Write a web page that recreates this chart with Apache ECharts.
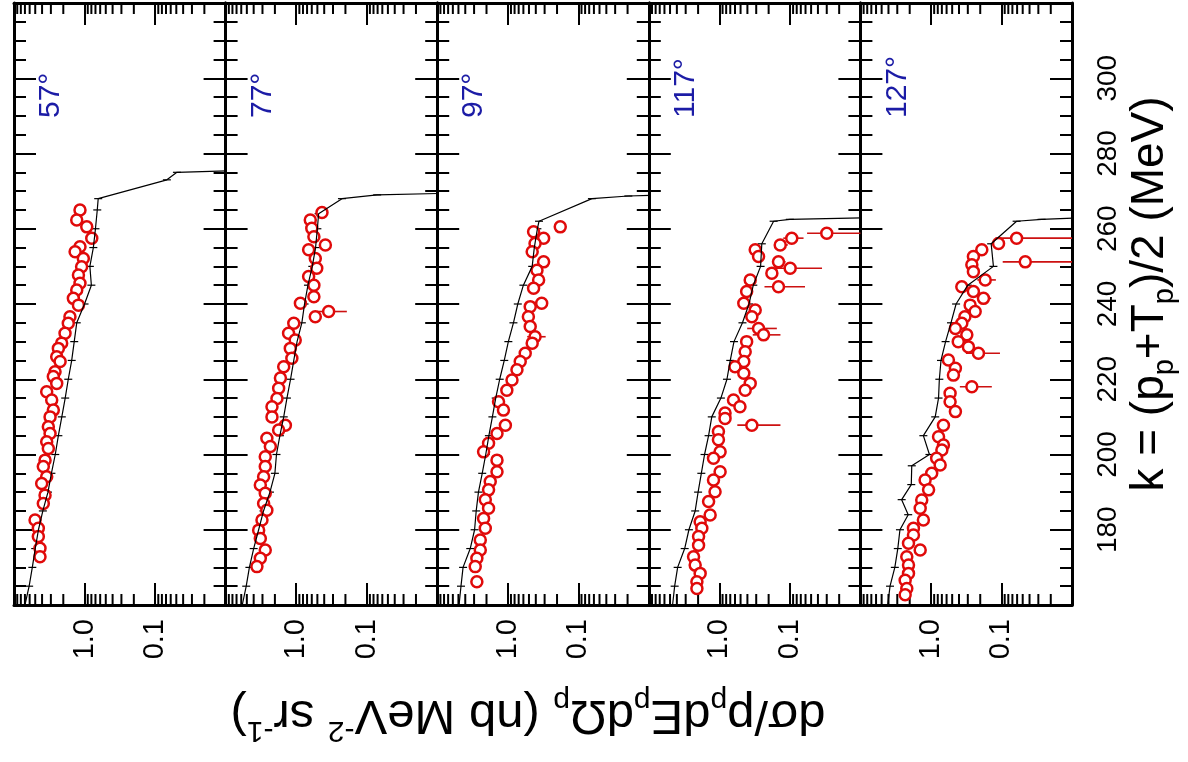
<!DOCTYPE html>
<html>
<head>
<meta charset="utf-8">
<script src="https://cdn.jsdelivr.net/npm/echarts@6/dist/echarts.min.js"></script>
<style>
html, body { margin: 0; padding: 0; background: #fff; }
#chart { width: 1188px; height: 762px; }
</style>
</head>
<body>
<div id="chart"></div>
<script>
// panel titles (proton angle)
const angles = ['57°', '77°', '97°', '117°', '127°'];
const kTickLabels = [180, 200, 220, 240, 260, 280, 300];
const sigmaTickLabels = [[1, '1.0'], [0.1, '0.1']];
// log minor ticks of the cross-section axis
const sigmaMinor = [0.02, 0.03, 0.04, 0.05, 0.06, 0.07, 0.08, 0.09,
  0.2, 0.3, 0.4, 0.5, 0.6, 0.7, 0.8, 0.9, 2, 3, 4, 5, 6, 7, 8, 9];

// measured points: [k (MeV), dsigma, error]
const data57 = [[265.0, 1.16, 0], [262.3, 1.29, 0], [260.5, 0.93, 0], [257.5, 0.79, 0], [255.2, 1.16, 0],
  [253.9, 1.36, 0], [252.1, 1.04, 0], [249.9, 1.10, 0], [247.7, 1.22, 0], [245.5, 1.16, 0],
  [243.7, 1.29, 0], [241.5, 1.44, 0], [239.7, 1.22, 0], [236.6, 1.61, 0], [234.9, 1.70, 0],
  [232.2, 1.89, 0], [229.6, 2.11, 0], [228.2, 2.35, 0], [226.0, 2.48, 0], [224.7, 2.22, 0],
  [222.0, 2.62, 0], [220.7, 2.77, 0], [218.9, 2.48, 0], [216.7, 3.44, 0], [214.5, 2.92, 0],
  [211.8, 2.77, 0], [210.0, 3.08, 0], [207.4, 3.26, 0], [205.6, 3.08, 0], [203.4, 3.44, 0],
  [201.6, 3.26, 0], [198.5, 3.63, 0], [196.8, 3.84, 0], [194.1, 3.44, 0], [192.3, 4.05, 0],
  [189.2, 3.63, 0], [187.0, 3.84, 0], [182.6, 5.03, 0], [180.4, 4.52, 0], [178.2, 4.52, 0],
  [175.1, 4.28, 0], [172.8, 4.28, 0]];
const data77 = [[264.3, 0.43, 0.05], [262.3, 0.63, 0], [260.1, 0.60, 0], [257.9, 0.56, 0.05], [255.7, 0.385, 0.06],
  [254.4, 0.665, 0], [252.1, 0.535, 0], [249.5, 0.51, 0.05], [247.3, 0.665, 0], [245.0, 0.56, 0],
  [241.9, 0.56, 0], [240.2, 0.87, 0], [236.6, 0.535, 0], [238.0, 0.346, 0.155], [234.9, 1.08, 0],
  [232.2, 1.28, 0], [230.4, 1.03, 0], [228.2, 1.21, 0], [225.6, 1.15, 0], [223.3, 1.50, 0],
  [220.3, 1.67, 0], [217.6, 1.77, 0], [214.9, 1.87, 0], [212.7, 2.20, 0], [210.0, 2.20, 0],
  [207.8, 1.42, 0], [206.5, 1.77, 0], [204.3, 2.60, 0], [202.1, 2.32, 0], [199.4, 2.74, 0],
  [196.8, 2.74, 0], [194.1, 2.89, 0], [191.9, 3.22, 0], [189.7, 2.74, 0], [187.0, 2.89, 0],
  [185.2, 2.60, 0], [182.6, 3.05, 0], [179.9, 3.40, 0], [177.7, 3.22, 0], [174.6, 2.74, 0],
  [172.4, 3.22, 0], [170.2, 3.60, 0]];
const data97 = [[260.5, 0.18, 0.03], [259.2, 0.43, 0], [257.5, 0.31, 0.04], [256.1, 0.41, 0], [253.9, 0.45, 0],
  [251.2, 0.31, 0.04], [249.0, 0.385, 0], [246.4, 0.365, 0], [244.2, 0.43, 0], [240.2, 0.33, 0.06],
  [239.3, 0.48, 0], [236.6, 0.51, 0], [234.0, 0.48, 0], [231.3, 0.41, 0.12], [229.6, 0.45, 0],
  [226.9, 0.565, 0.06], [224.7, 0.665, 0], [222.5, 0.74, 0], [219.8, 0.87, 0], [217.1, 1.03, 0],
  [214.0, 1.35, 0], [211.8, 1.15, 0], [207.8, 1.08, 0], [205.6, 1.42, 0], [203.0, 1.87, 0],
  [200.7, 2.20, 0], [198.5, 1.42, 0], [195.4, 1.42, 0], [192.8, 1.77, 0], [190.6, 1.87, 0],
  [188.0, 2.08, 0], [185.7, 1.87, 0], [183.0, 2.20, 0], [180.4, 2.08, 0], [177.3, 2.45, 0],
  [174.6, 2.45, 0], [172.4, 2.74, 0], [170.2, 2.89, 0], [166.2, 2.74, 0]];
const data117 = [[258.8, 0.030, 0.027], [257.5, 0.094, 0.03], [255.7, 0.137, 0.03], [254.4, 0.31, 0], [252.6, 0.278, 0],
  [251.2, 0.145, 0.03], [249.5, 0.099, 0.064], [248.2, 0.18, 0.03], [246.4, 0.365, 0], [244.6, 0.145, 0.084],
  [243.3, 0.41, 0], [240.2, 0.45, 0], [238.4, 0.31, 0.05], [236.6, 0.346, 0.04], [233.5, 0.278, 0.125],
  [231.8, 0.236, 0.1], [230.0, 0.41, 0.05], [227.3, 0.43, 0], [224.7, 0.45, 0.05], [223.3, 0.60, 0],
  [221.6, 0.45, 0], [218.9, 0.365, 0.06], [217.1, 0.43, 0], [214.5, 0.63, 0], [212.7, 0.51, 0.05],
  [211.0, 0.83, 0], [209.6, 0.83, 0], [207.8, 0.346, 0.21], [206.1, 1.03, 0], [203.9, 1.03, 0],
  [200.7, 0.975, 0], [199.0, 1.21, 0], [195.4, 0.975, 0], [193.2, 1.21, 0], [190.1, 1.15, 0],
  [187.5, 1.42, 0], [183.9, 1.35, 0], [182.1, 1.87, 0], [180.4, 1.77, 0], [178.2, 1.97, 0],
  [175.9, 1.97, 0], [172.8, 2.32, 0], [170.6, 2.20, 0], [168.4, 1.87, 0], [166.2, 2.08, 0],
  [164.4, 2.08, 0]];
const data127 = [[257.5, 0.061, 0.06], [251.2, 0.046, 0.05], [256.1, 0.11, 0.02], [254.4, 0.19, 0.03], [252.6, 0.25, 0],
  [250.4, 0.263, 0], [248.6, 0.25, 0.04], [246.4, 0.17, 0.05], [244.6, 0.365, 0], [243.3, 0.25, 0],
  [241.5, 0.18, 0.04], [239.7, 0.278, 0], [238.0, 0.236, 0.04], [236.6, 0.33, 0], [234.9, 0.365, 0],
  [233.5, 0.45, 0], [231.8, 0.31, 0.04], [230.0, 0.41, 0], [228.6, 0.294, 0.04], [226.9, 0.212, 0.107],
  [225.1, 0.565, 0], [222.9, 0.45, 0], [221.1, 0.48, 0], [218.0, 0.263, 0.126], [216.3, 0.535, 0],
  [214.0, 0.535, 0], [211.4, 0.45, 0], [207.8, 0.665, 0], [204.7, 0.78, 0], [202.5, 0.665, 0.05],
  [201.2, 0.70, 0], [199.0, 0.83, 0], [197.2, 0.74, 0], [195.0, 0.975, 0], [193.2, 1.21, 0],
  [190.6, 1.08, 0], [187.9, 1.35, 0], [185.7, 1.42, 0], [182.6, 1.28, 0], [180.4, 1.77, 0],
  [178.6, 1.77, 0], [176.4, 2.08, 0], [174.6, 1.42, 0], [172.8, 2.20, 0], [170.6, 2.08, 0],
  [168.4, 2.08, 0], [166.6, 2.32, 0], [164.4, 2.20, 0], [162.7, 2.32, 0]];

// calculation (black line): [k (MeV), dsigma]
const theory57 = [[160, 7.0], [165, 6.1], [170, 5.5], [175, 5.0], [180, 4.5], [185, 3.9], [190, 3.3],
  [195, 2.95], [200, 2.6], [205, 2.35], [210, 2.1], [215, 1.88], [220, 1.7], [225, 1.52], [230, 1.4],
  [235, 1.29], [240, 1.0], [245, 0.8], [250, 0.84], [255, 0.75], [260, 0.7], [265, 0.66], [268, 0.64],
  [273, 0.068], [275, 0.049], [275.5, 0.005]];
const theory77 = [[160, 5.8], [165, 5.1], [170, 4.6], [175, 4.0], [180, 3.4], [185, 2.9], [190, 2.35],
  [195, 2.0], [200, 1.9], [205, 1.7], [210, 1.5], [215, 1.35], [220, 1.2], [225, 1.08], [230, 0.97],
  [235, 0.83], [240, 0.76], [245, 0.68], [250, 0.59], [255, 0.53], [260, 0.5], [264, 0.48], [268, 0.224],
  [269, 0.071], [269.5, 0.005]];
const theory97 = [[160, 4.9], [165, 4.6], [170, 4.3], [175, 3.4], [180, 2.95], [185, 2.8], [190, 2.6],
  [195, 2.3], [200, 2.05], [205, 1.85], [210, 1.65], [215, 1.48], [220, 1.3], [225, 1.12], [230, 0.98],
  [235, 0.83], [240, 0.72], [245, 0.6], [250, 0.45], [255, 0.42], [260, 0.38], [262, 0.36], [268, 0.064],
  [268.7, 0.0195], [269, 0.005]];
const theory117 = [[160, 4.6], [165, 4.3], [170, 3.9], [175, 3.1], [180, 2.7], [185, 2.2], [190, 2.0],
  [195, 1.8], [200, 1.62], [205, 1.42], [210, 1.28], [215, 0.95], [220, 0.78], [225, 0.7], [230, 0.62],
  [235, 0.47], [240, 0.38], [245, 0.33], [250, 0.26], [256, 0.25], [262, 0.17], [262.5, 0.1], [263, 0.005]];
const theory127 = [[160, 4.1], [165, 3.8], [170, 3.25], [175, 2.95], [180, 2.75], [184, 2.1], [188, 2.6],
  [192, 1.9], [197, 1.87], [200, 1.05], [205, 1.28], [210, 0.87], [215, 0.78], [220, 0.76], [225, 0.72],
  [230, 0.62], [235, 0.52], [240, 0.44], [245, 0.3], [250, 0.13], [256, 0.14], [262, 0.061], [262.5, 0.027],
  [263, 0.005]];

const measured = [data57, data77, data97, data117, data127];
const calculated = [theory57, theory77, theory97, theory117, theory127];

const FONT = '"Liberation Sans", Arial, sans-serif';
const panelLeft = 14;
const panelWidth = 211.6;
const panelTop = 3;
const panelHeight = 602;
const kMin = 160, kMax = 320;
const sMin = 0.01, sMax = 10;

const chart = echarts.init(document.getElementById('chart'));

function sigmaLabel(v) {
  for (const [val, txt] of sigmaTickLabels) {
    if (Math.abs(v - val) < val * 1e-6) return txt;
  }
  return '';
}

const grids = [], xAxes = [], yAxes = [], series = [], graphics = [];

angles.forEach((name, i) => {
  grids.push({ left: panelLeft + i * panelWidth, top: panelTop, width: panelWidth, height: panelHeight });

  const baseX = {
    type: 'log', logBase: 10, gridIndex: i, min: sMin, max: sMax, inverse: true,
    axisLine: { show: true, onZero: false, lineStyle: { color: '#000', width: 3 } },
    axisTick: { show: true, inside: true, length: 22, lineStyle: { color: '#000', width: 2 } },
    splitLine: { show: false }
  };
  xAxes.push(Object.assign({}, baseX, {
    position: 'bottom',
    axisLabel: { show: true, rotate: 90, margin: 14, fontSize: 29, color: '#000', fontFamily: FONT, formatter: sigmaLabel }
  }));
  xAxes.push(Object.assign({}, baseX, { position: 'top', axisLabel: { show: false } }));

  const baseY = {
    type: 'value', gridIndex: i, min: kMin, max: kMax, interval: 20,
    axisLine: { show: true, onZero: false, lineStyle: { color: '#000', width: 3 } },
    axisTick: { show: true, inside: true, length: 22, lineStyle: { color: '#000', width: 2 } },
    minorTick: { show: true, splitNumber: 4, length: 12, lineStyle: { color: '#000', width: 2 } },
    splitLine: { show: false }
  };
  yAxes.push(Object.assign({}, baseY, { position: 'left', axisLabel: { show: false } }));
  yAxes.push(Object.assign({}, baseY, {
    position: 'right',
    axisLabel: {
      show: i === angles.length - 1, rotate: 90, margin: 22, fontSize: 28, color: '#000', fontFamily: FONT,
      formatter: v => kTickLabels.includes(v) ? String(v) : ''
    }
  }));

  const xi = 2 * i, yi = 2 * i;

  // log minor ticks, bottom and top
  series.push({
    type: 'custom', xAxisIndex: xi, yAxisIndex: yi, silent: true, clip: false,
    data: sigmaMinor.map(v => [v, kMin]),
    renderItem: (params, api) => {
      const b = api.coord([api.value(0), kMin]);
      const t = api.coord([api.value(0), kMax]);
      const st = { stroke: '#000', lineWidth: 2 };
      return {
        type: 'group', children: [
          { type: 'line', shape: { x1: b[0], y1: b[1], x2: b[0], y2: b[1] - 11 }, style: st },
          { type: 'line', shape: { x1: t[0], y1: t[1], x2: t[0], y2: t[1] + 11 }, style: st }
        ]
      };
    }
  });

  const th = calculated[i];
  series.push({
    type: 'line', xAxisIndex: xi, yAxisIndex: yi, silent: true, showSymbol: false,
    data: th.map(d => [d[1], d[0]]),
    lineStyle: { color: '#000', width: 1.2 }
  });
  // small error marks on the calculation
  series.push({
    type: 'custom', xAxisIndex: xi, yAxisIndex: yi, silent: true,
    data: th.filter(d => d[1] >= sMin).map(d => [d[1], d[0]]),
    renderItem: (params, api) => {
      const p = api.coord([api.value(0), api.value(1)]);
      return { type: 'line', shape: { x1: p[0] - 4, y1: p[1], x2: p[0] + 4, y2: p[1] }, style: { stroke: '#000', lineWidth: 1.2 } };
    }
  });

  const ms = measured[i];
  series.push({
    type: 'custom', xAxisIndex: xi, yAxisIndex: yi, silent: true,
    data: ms.filter(d => d[2] > 0).map(d => [d[1], d[0], d[2]]),
    renderItem: (params, api) => {
      const s = api.value(0), k = api.value(1), e = api.value(2);
      const hi = api.coord([s + e, k]);
      const lo = api.coord([Math.max(s - e, sMin), k]);
      return { type: 'line', shape: { x1: hi[0], y1: hi[1], x2: lo[0], y2: lo[1] }, style: { stroke: '#cc1111', lineWidth: 1.6 } };
    }
  });
  series.push({
    type: 'scatter', xAxisIndex: xi, yAxisIndex: yi, silent: true,
    symbol: 'circle', symbolSize: 11,
    data: ms.map(d => [d[1], d[0]]),
    itemStyle: { color: '#ffffff', borderColor: '#e00a0a', borderWidth: 2.5, opacity: 1 }
  });

  graphics.push({
    type: 'text', x: panelLeft + i * panelWidth + 37, y: 118, rotation: Math.PI / 2,
    style: { text: name, fill: '#1c1ca6', font: '30px ' + FONT, textAlign: 'left', textVerticalAlign: 'middle' }
  });
});

const titleRich = {
  t: { fontSize: 46, fontFamily: FONT, fill: '#000', lineHeight: 58 },
  sub: { fontSize: 29, fontFamily: FONT, fill: '#000', verticalAlign: 'bottom' },
  sup: { fontSize: 29, fontFamily: FONT, fill: '#000', verticalAlign: 'top' }
};
const yTitleRich = {
  t: { fontSize: 49, fontFamily: FONT, fill: '#000', lineHeight: 60 },
  sub: { fontSize: 30, fontFamily: FONT, fill: '#000', verticalAlign: 'bottom' },
  sup: { fontSize: 30, fontFamily: FONT, fill: '#000', verticalAlign: 'top' }
};

graphics.push({
  type: 'text', x: 1150, y: 294, rotation: Math.PI / 2,
  style: {
    text: '{t|k = (p}{sub|p}{t|+T}{sub|p}{t|)/2 (MeV)}',
    rich: titleRich, textAlign: 'center', textVerticalAlign: 'middle'
  }
});
graphics.push({
  type: 'text', x: 528, y: 715, rotation: Math.PI,
  style: {
    text: '{t|dσ/p}{sub|p}{t|dE}{sub|p}{t|dΩ}{sub|p}{t| (nb MeV}{sup|-2}{t| sr}{sup|-1}{t|)}',
    rich: yTitleRich, textAlign: 'center', textVerticalAlign: 'middle'
  }
});

chart.setOption({
  animation: false,
  backgroundColor: '#fff',
  grid: grids,
  xAxis: xAxes,
  yAxis: yAxes,
  series: series,
  graphic: graphics
});
</script>
</body>
</html>
